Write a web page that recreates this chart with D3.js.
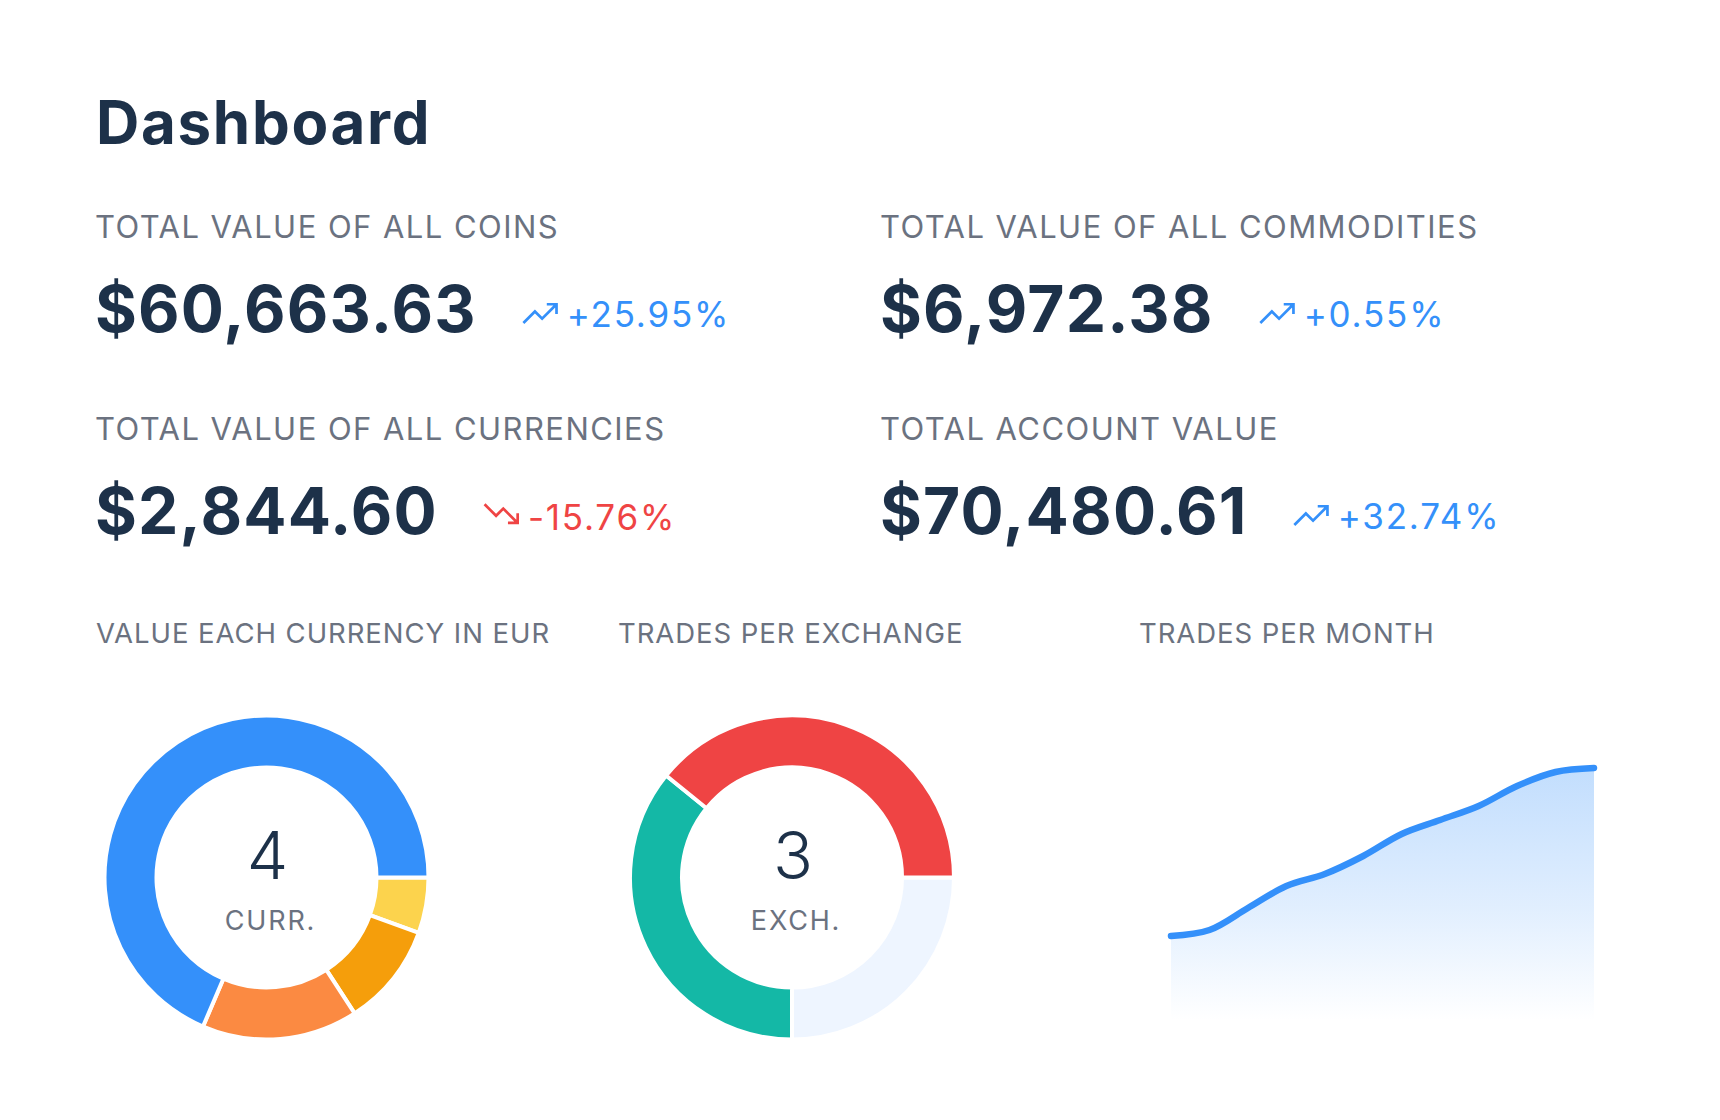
<!DOCTYPE html>
<html>
<head>
<meta charset="utf-8">
<script src="https://cdn.jsdelivr.net/npm/d3@7"></script>
<style>
  html, body { margin: 0; padding: 0; background: #fff; }
  svg { display: block; font-family: Inter, "Noto Sans", sans-serif; }
</style>
</head>
<body>
<svg id="chart"></svg>
<script>
// ---- data ----
const statLabels = ["TOTAL VALUE OF ALL COINS", "TOTAL VALUE OF ALL COMMODITIES",
                    "TOTAL VALUE OF ALL CURRENCIES", "TOTAL ACCOUNT VALUE"];
const statValues = ["$60,663.63", "$6,972.38", "$2,844.60", "$70,480.61"];
const statChanges = [25.95, 0.55, -15.76, 32.74];

const currencyNames = ["C1", "C2", "C3", "C4"];
const currencyValues = [158, 293, 443, 1952];
const currencyColors = ["#fcd34d", "#f59e0b", "#fb8a42", "#3490fa"];

const exchangeNames = ["E1", "E2", "E3"];
const exchangeTrades = [30, 43, 47];
const exchangeColors = ["#eef5ff", "#14b8a6", "#ef4444"];

const months = ["Jan", "Feb", "Mar", "Apr", "May", "Jun", "Jul", "Aug", "Sep", "Oct", "Nov", "Dec"];
const tradesPerMonth = [42, 45, 56, 67, 73, 82, 93, 100, 107, 117, 124, 126];

const chartTitles = ["VALUE EACH CURRENCY IN EUR", "TRADES PER EXCHANGE", "TRADES PER MONTH"];

// ---- setup ----
const width = 1720, height = 1120;
const navy = "#1d3149", gray = "#6b7280", blue = "#3490fa", red = "#ef4444";

const svg = d3.select("#chart").attr("width", width).attr("height", height);
svg.append("rect").attr("width", width).attr("height", height).attr("fill", "#fff");

svg.append("text")
  .attr("x", 96).attr("y", 144)
  .attr("fill", navy)
  .style("font-size", "60px").style("font-weight", 700).style("letter-spacing", "1.7px")
  .text("Dashboard");

// ---- stat blocks ----
const colX = [95, 880];
const rowY = [0, 202];

const upIcon = "M2.6 17.2 L9 10.8 L13 14.8 L21 6.8 M15.6 6.8 H21 V12.2";
const downIcon = "M2.6 6.8 L9 13.2 L13 9.2 L21 17.2 M15.6 17.2 H21 V11.8";

statLabels.forEach((label, i) => {
  const x = colX[i % 2], dy = rowY[Math.floor(i / 2)];
  const g = svg.append("g").attr("transform", `translate(${x},${dy})`);

  g.append("text")
    .attr("x", 0).attr("y", 237.5)
    .attr("fill", gray)
    .style("font-size", "31px").style("font-weight", 400).style("letter-spacing", "1.45px")
    .text(label);

  const val = g.append("text")
    .attr("x", 0).attr("y", 332)
    .attr("fill", navy)
    .style("font-size", "64px").style("font-weight", 700).style("letter-spacing", "1.2px")
    .text(statValues[i]);

  const w = val.node().getComputedTextLength();
  const change = statChanges[i];
  const c = change >= 0 ? blue : red;

  g.append("path")
    .attr("d", change >= 0 ? upIcon : downIcon)
    .attr("transform", `translate(${w + 42},${change >= 0 ? 292 : 290}) scale(1.8)`)
    .attr("fill", "none").attr("stroke", c).attr("stroke-width", 1.5);

  g.append("text")
    .attr("x", w + 90).attr("y", change >= 0 ? 326.5 : 328)
    .attr("fill", c)
    .style("font-size", "35px").style("font-weight", 400).style("letter-spacing", "1.8px")
    .text((change >= 0 ? "+" : "-") + Math.abs(change).toFixed(2) + "%");
});

// ---- chart titles ----
const titleX = [96, 618, 1139];
chartTitles.forEach((t, i) => {
  svg.append("text")
    .attr("x", titleX[i]).attr("y", 643)
    .attr("fill", gray)
    .style("font-size", "27.5px").style("font-weight", 400).style("letter-spacing", "0.95px")
    .text(t);
});

// ---- donuts ----
const arc = d3.arc().innerRadius(110).outerRadius(162);
const pie = d3.pie().sort(null).value(d => d.value)
  .startAngle(Math.PI / 2).endAngle(Math.PI / 2 + 2 * Math.PI);

function donut(cx, cy, names, values, colors, count, sub) {
  const g = svg.append("g").attr("transform", `translate(${cx},${cy})`);
  const color = d3.scaleOrdinal().domain(names).range(colors);
  g.selectAll("path")
    .data(pie(values.map((v, i) => ({ name: names[i], value: v }))))
    .enter().append("path")
    .attr("d", arc)
    .attr("fill", d => color(d.data.name))
    .attr("stroke", "#fff").attr("stroke-width", 4);

  g.append("text")
    .attr("x", 1).attr("y", 1)
    .attr("text-anchor", "middle")
    .attr("fill", navy)
    .style("font-size", "66px").style("font-weight", 300)
    .text(count);

  g.append("text")
    .attr("x", 4).attr("y", 52)
    .attr("text-anchor", "middle")
    .attr("fill", gray)
    .style("font-size", "27px").style("font-weight", 400).style("letter-spacing", "1.8px")
    .text(sub);
}
donut(266.5, 877.5, currencyNames, currencyValues, currencyColors, currencyNames.length, "CURR.");
donut(792, 877.5, exchangeNames, exchangeTrades, exchangeColors, exchangeNames.length, "EXCH.");

// ---- trades per month area ----
const x = d3.scalePoint().domain(months).range([1171, 1594]);
const y = d3.scaleLinear().domain([0, d3.max(tradesPerMonth)]).range([1020, 768]);

const defs = svg.append("defs");
const grad = defs.append("linearGradient")
  .attr("id", "areaFill").attr("gradientUnits", "userSpaceOnUse")
  .attr("x1", 0).attr("x2", 0).attr("y1", y.range()[1]).attr("y2", y.range()[0]);
grad.append("stop").attr("offset", 0).attr("stop-color", blue).attr("stop-opacity", 0.3);
grad.append("stop").attr("offset", 0.55).attr("stop-color", blue).attr("stop-opacity", 0.15);
grad.append("stop").attr("offset", 1).attr("stop-color", blue).attr("stop-opacity", 0);

const area = d3.area()
  .x((d, i) => x(months[i]))
  .y0(y(0))
  .y1(d => y(d))
  .curve(d3.curveCatmullRom.alpha(0.5));

const line = d3.line()
  .x((d, i) => x(months[i]))
  .y(d => y(d))
  .curve(d3.curveCatmullRom.alpha(0.5));

svg.append("path")
  .datum(tradesPerMonth)
  .attr("d", area)
  .attr("fill", "url(#areaFill)");

svg.append("path")
  .datum(tradesPerMonth)
  .attr("d", line)
  .attr("fill", "none")
  .attr("stroke", blue)
  .attr("stroke-width", 6.5)
  .attr("stroke-linecap", "round");
</script>
</body>
</html>
